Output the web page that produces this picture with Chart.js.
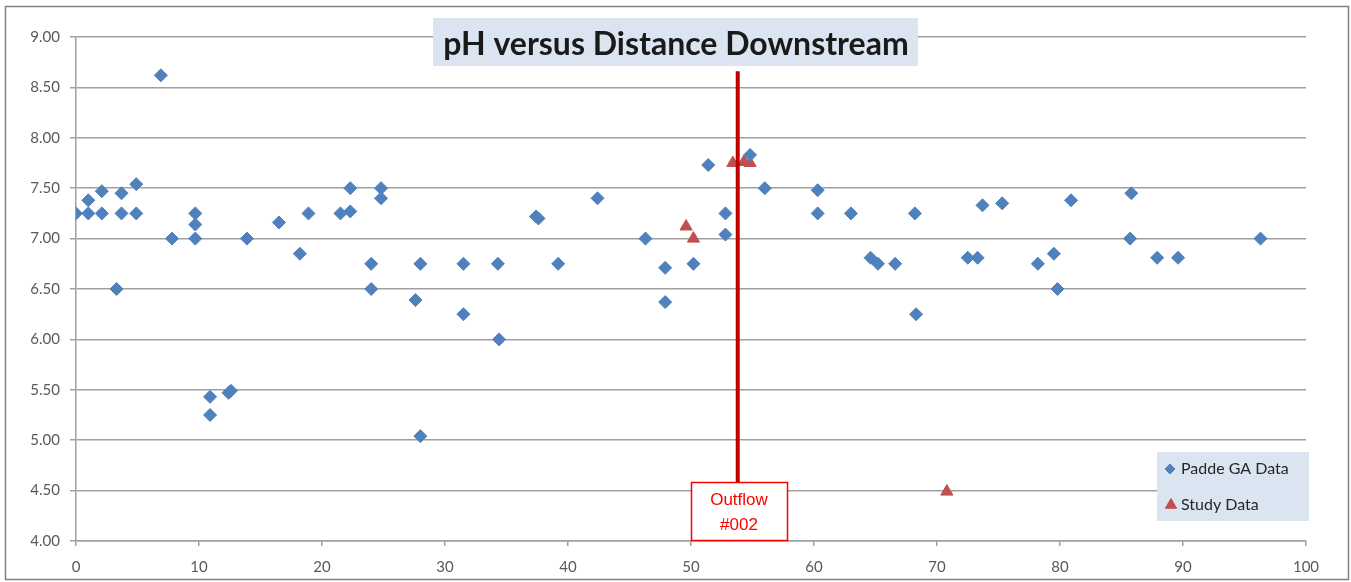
<!DOCTYPE html>
<html>
<head>
<meta charset="utf-8">
<script src="https://cdn.jsdelivr.net/npm/chart.js@4.4.0/dist/chart.umd.min.js"></script>
<style>
body{margin:0;background:#fff}
#wrap{width:1351px;height:582px;position:relative}
</style>
</head>
<body>
<div id="wrap"><canvas id="ph"></canvas></div>
<script>
// Padde GA data (distance downstream, pH)
let paddeX=[0,1.0,1.0,2.1,2.1,3.3,3.7,3.7,4.9,4.9,6.9,7.8,9.7,9.7,9.7,10.9,10.9,12.4,12.6,13.9,16.5,18.2,18.9,21.5,22.3,22.3,24.0,24.0,24.8,24.8,27.6,28.0,28.0,31.5,31.5,34.3,34.4,37.4,37.6,39.2,42.4,46.3,47.9,47.9,50.2,51.4,52.8,52.8,54.8,56.0,60.3,60.3,63.0,64.6,65.2,66.6,68.2,68.3,72.5,73.3,73.7,75.3,78.2,79.5,79.8,80.9,85.8,85.7,87.9,89.6,96.3]
let paddeY=[7.25,7.38,7.25,7.47,7.25,6.50,7.45,7.25,7.54,7.25,8.62,7.00,7.25,7.14,7.00,5.43,5.25,5.47,5.49,7.00,7.16,6.85,7.25,7.25,7.27,7.50,6.75,6.50,7.50,7.40,6.39,6.75,5.04,6.75,6.25,6.75,6.00,7.22,7.20,6.75,7.40,7.00,6.71,6.37,6.75,7.73,7.25,7.04,7.83,7.50,7.48,7.25,7.25,6.81,6.75,6.75,7.25,6.25,6.81,6.81,7.33,7.35,6.75,6.85,6.50,7.38,7.45,7.00,6.81,6.81,7.00]

// Study data
let studyX=[49.6,50.2,53.4,54.3,54.8,70.8]
let studyY=[7.12,7.00,7.75,7.76,7.75,4.49]

let xTicks=[0,10,20,30,40,50,60,70,80,90,100]
let yMin=4, yMax=9, yStep=0.5

let outflowAt=53.8
let chartTitle="pH versus Distance Downstream"
let seriesNames=["Padde GA Data","Study Data"]

const blue="#4f81bd"
const red="#c0504d"
const boxFill="#dbe5f1"
const tickFont="Lato, 'Open Sans', sans-serif"

function pts(xs,ys){
return xs.map((x,i)=>({x:x,y:ys[i]}))
}

// title, outflow marker, legend, frame
const decor={
id:"decor",
beforeDraw(chart){
let c=chart.ctx
c.save()
c.fillStyle="#fff"
c.fillRect(0,0,chart.width,chart.height)
c.strokeStyle="#7f7f7f"
c.lineWidth=1.5
c.strokeRect(5.5,6.5,1343,573)
c.restore()
},
afterDraw(chart){
let c=chart.ctx
let xs=chart.scales.x, ys=chart.scales.y
c.save()

// outflow line + label box
let lx=xs.getPixelForValue(outflowAt)
c.strokeStyle="#c00000"
c.lineWidth=4
c.beginPath()
c.moveTo(lx,ys.getPixelForValue(8.66))
c.lineTo(lx,482)
c.stroke()

c.fillStyle="#fff"
c.fillRect(691,482,97,59)
c.strokeStyle="#ff0000"
c.lineWidth=1.5
c.strokeRect(691.5,482.5,96,58)
c.fillStyle="#ff0000"
c.font="17px 'Liberation Sans', Arial, sans-serif"
c.textAlign="center"
c.textBaseline="middle"
c.fillText("Outflow",739,500)
c.fillText("#002",739,525)

// title
c.fillStyle=boxFill
c.fillRect(433,18,485,48)
c.fillStyle="#1a1a1a"
c.font="bold 32px Lato, 'Open Sans', sans-serif"
c.textAlign="center"
c.textBaseline="middle"
c.fillText(chartTitle,676,45)

// legend
c.fillStyle=boxFill
c.fillRect(1157,452,152,69)
c.font="16px Lato, 'Open Sans', sans-serif"
c.textAlign="left"
c.fillStyle="#262626"
c.fillText(seriesNames[0],1181,469)
c.fillText(seriesNames[1],1181,505)
c.fillStyle=blue; c.strokeStyle=blue; c.lineWidth=1
Chart.helpers.drawPoint(c,{pointStyle:"rectRot",radius:5,borderWidth:1},1170,469)
c.fillStyle=red; c.strokeStyle=red
Chart.helpers.drawPoint(c,{pointStyle:"triangle",radius:6.5,borderWidth:1},1171,505)

c.restore()
}
}

new Chart(document.getElementById("ph"),{
type:"scatter",
data:{
datasets:[{
label:seriesNames[0],
data:pts(paddeX,paddeY),
pointStyle:"rectRot",
pointRadius:6.5,
borderWidth:1,
backgroundColor:blue,
borderColor:blue
},{
label:seriesNames[1],
data:pts(studyX,studyY),
pointStyle:"triangle",
pointRadius:7,
borderWidth:1,
backgroundColor:red,
borderColor:red
}]
},
options:{
responsive:true,
maintainAspectRatio:false,
animation:false,
layout:{padding:{top:37,right:45,left:0,bottom:0}},
plugins:{legend:{display:false},tooltip:{enabled:false},title:{display:false}},
scales:{
x:{
type:"linear",
min:xTicks[0],max:xTicks[xTicks.length-1],
afterFit(s){s.height=41},
afterBuildTicks(s){s.ticks=xTicks.map(v=>({value:v}))},
grid:{drawOnChartArea:false,drawTicks:true,tickLength:5,color:"#a0a0a0",lineWidth:1.5},
border:{display:true,color:"#a0a0a0",width:1.5},
ticks:{color:"#595959",padding:12,font:{size:15,family:tickFont}}
},
y:{
type:"linear",
min:yMin,max:yMax,
afterFit(s){s.width=76},
grid:{color:"#a0a0a0",lineWidth:1.5,tickLength:6},
border:{display:true,color:"#a0a0a0",width:1.5},
ticks:{stepSize:yStep,color:"#595959",padding:10,font:{size:15,family:tickFont},
callback:v=>v.toFixed(2)}
}
}
},
plugins:[decor]
})
</script>
</body>
</html>
